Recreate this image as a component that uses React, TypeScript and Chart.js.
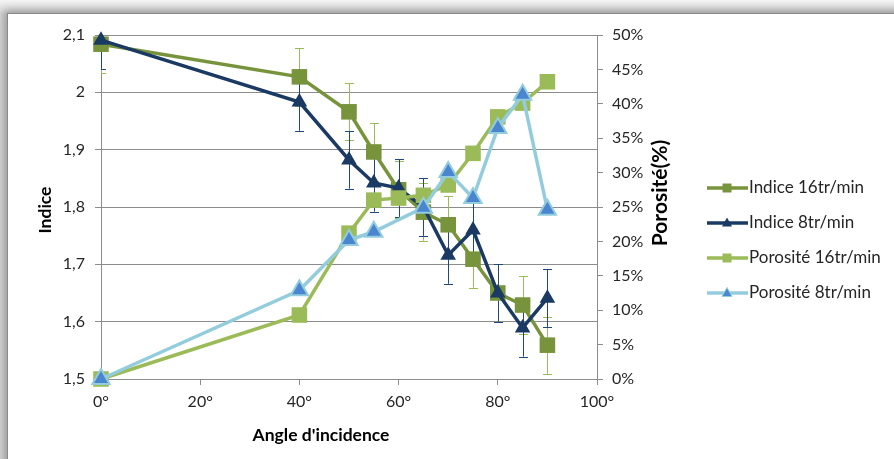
import React, { useEffect, useRef } from 'react';
import { Chart, registerables } from 'chart.js';
Chart.register(...registerables);

const angles = [0, 40, 50, 55, 60, 65, 70, 75, 80, 85, 90];
const indice16 = [2.084, 2.027, 1.966, 1.896, 1.83, 1.791, 1.769, 1.709, 1.65, 1.629, 1.559];
const indice8 = [2.091, 1.983, 1.882, 1.842, 1.833, 1.8, 1.716, 1.76, 1.65, 1.589, 1.641];
const porosite16 = [0, 9.3, 21.2, 26.0, 26.3, 26.7, 28.2, 32.8, 38.1, 40.1, 43.2];
const porosite8: (number | null)[] = [0, 12.9, 20.2, 21.4, null, 24.9, 30.1, 26.3, 36.5, 41.3, 24.6];
const indice16Err = [0.05, 0.05, 0.05, 0.05, 0.05, 0.05, 0.05, 0.05, 0.05, 0.05, 0.05];
const indice8Err = [0.05, 0.05, 0.05, 0.05, 0.05, 0.05, 0.05, 0.05, 0.05, 0.05, 0.05];
const seriesLabels = ['Indice 16tr/min', 'Indice 8tr/min', 'Porosité 16tr/min', 'Porosité 8tr/min'];
const xTitle = "Angle d'incidence";
const yTitle = 'Indice';
const y1Title = 'Porosité(%)';

const C_OLIVE = '#77933C';
const C_NAVY = '#1B3A63';
const C_LGREEN = '#9BBB59';
const C_LBLUE = '#93CDDD';
const C_BLUE = '#4A86CF';
const GRID = '#8C8C8C';
const TXT = '#262626';
const FONT = 'Lato, "Open Sans", sans-serif';

const pts = (vals: (number | null)[]) => angles.map((a, i) => ({ x: a, y: vals[i] }));

function drawMarker(ctx: CanvasRenderingContext2D, kind: string, x: number, y: number, s: number, fill: string, stroke?: string, sw = 0) {
  ctx.beginPath();
  if (kind === 'rect') {
    ctx.rect(x - s, y - s, 2 * s, 2 * s);
  } else {
    ctx.moveTo(x, y - s * 1.1);
    ctx.lineTo(x + s, y + s * 0.7);
    ctx.lineTo(x - s, y + s * 0.7);
    ctx.closePath();
  }
  ctx.fillStyle = fill;
  ctx.fill();
  if (stroke && sw) {
    ctx.strokeStyle = stroke;
    ctx.lineWidth = sw;
    ctx.stroke();
  }
}

const extras = {
  id: 'extras',
  beforeDatasetsDraw(chart: any) {
    const ctx = chart.ctx as CanvasRenderingContext2D;
    const a = chart.chartArea;
    ctx.save();
    ctx.beginPath();
    ctx.rect(a.left, a.top, a.right - a.left, a.bottom - a.top);
    ctx.clip();
    const ys = chart.scales.y;
    const bars = [
      { di: 0, vals: indice16, err: indice16Err, color: C_LGREEN },
      { di: 1, vals: indice8, err: indice8Err, color: '#1F497D' },
    ];
    for (const b of bars) {
      const meta = chart.getDatasetMeta(b.di);
      ctx.strokeStyle = b.color;
      ctx.lineWidth = 1;
      b.vals.forEach((v, i) => {
        const el = meta.data[i];
        if (!el) return;
        const x = Math.round(el.x) + 0.5;
        const yt = ys.getPixelForValue(v + b.err[i]);
        const yb = ys.getPixelForValue(v - b.err[i]);
        ctx.beginPath();
        ctx.moveTo(x, yt);
        ctx.lineTo(x, yb);
        ctx.moveTo(x - 4.5, Math.round(yt) + 0.5);
        ctx.lineTo(x + 4.5, Math.round(yt) + 0.5);
        ctx.moveTo(x - 4.5, Math.round(yb) + 0.5);
        ctx.lineTo(x + 4.5, Math.round(yb) + 0.5);
        ctx.stroke();
      });
    }
    ctx.restore();
  },
  afterDraw(chart: any) {
    const ctx = chart.ctx as CanvasRenderingContext2D;
    ctx.save();
    ctx.fillStyle = '#000';
    ctx.font = `bold 17.5px ${FONT}`;
    ctx.textAlign = 'center';
    ctx.textBaseline = 'middle';
    ctx.fillText(xTitle, 321, 435);
    ctx.save();
    ctx.translate(45, 210);
    ctx.rotate(-Math.PI / 2);
    ctx.fillText(yTitle, 0, 0);
    ctx.restore();
    ctx.save();
    ctx.translate(660, 193);
    ctx.rotate(-Math.PI / 2);
    ctx.font = `bold 21px ${FONT}`;
    ctx.fillText(y1Title, 0, 0);
    ctx.restore();

    const legendY = [188, 223, 258, 293];
    const styles = [
      { line: C_OLIVE, kind: 'rect', fill: C_OLIVE, stroke: '', sw: 0, s: 4.5 },
      { line: C_NAVY, kind: 'tri', fill: C_NAVY, stroke: '', sw: 0, s: 5 },
      { line: C_LGREEN, kind: 'rect', fill: C_LGREEN, stroke: '', sw: 0, s: 4.5 },
      { line: C_LBLUE, kind: 'tri', fill: C_BLUE, stroke: C_LBLUE, sw: 1, s: 5 },
    ];
    seriesLabels.forEach((lab, i) => {
      const y = legendY[i];
      const st = styles[i];
      ctx.strokeStyle = st.line;
      ctx.lineWidth = 3.5;
      ctx.beginPath();
      ctx.moveTo(707, y);
      ctx.lineTo(748, y);
      ctx.stroke();
      drawMarker(ctx, st.kind, 727, y, st.s, st.fill, st.stroke, st.sw);
      ctx.fillStyle = TXT;
      ctx.font = `17px ${FONT}`;
      ctx.textAlign = 'left';
      ctx.textBaseline = 'middle';
      ctx.fillText(lab, 749, y);
    });
    ctx.restore();
  },
};

export default function App() {
  const ref = useRef<HTMLCanvasElement>(null);
  useEffect(() => {
    document.body.style.margin = '0';
    const tickFont = { family: FONT, size: 16 };
    const chart = new Chart(ref.current as HTMLCanvasElement, {
      type: 'line',
      data: {
        datasets: [
          {
            label: seriesLabels[0], data: pts(indice16), yAxisID: 'y', order: 4, clip: false,
            borderColor: C_OLIVE, backgroundColor: C_OLIVE, borderWidth: 3.5,
            pointStyle: 'rect', pointRadius: 11, pointBorderWidth: 0, pointBackgroundColor: C_OLIVE,
          },
          {
            label: seriesLabels[1], data: pts(indice8), yAxisID: 'y', order: 3, clip: false,
            borderColor: C_NAVY, backgroundColor: C_NAVY, borderWidth: 3.5,
            pointStyle: 'triangle', pointRadius: 9, pointBorderWidth: 0, pointBackgroundColor: C_NAVY,
          },
          {
            label: seriesLabels[2], data: pts(porosite16), yAxisID: 'y1', order: 2, clip: false,
            borderColor: C_LGREEN, backgroundColor: C_LGREEN, borderWidth: 3.5,
            pointStyle: 'rect', pointRadius: 11, pointBorderWidth: 0, pointBackgroundColor: C_LGREEN,
          },
          {
            label: seriesLabels[3], data: pts(porosite8), yAxisID: 'y1', order: 1, spanGaps: true, clip: false,
            borderColor: C_LBLUE, backgroundColor: C_BLUE, borderWidth: 3.5,
            pointStyle: 'triangle', pointRadius: 10, pointBorderWidth: 2, pointBorderColor: C_LBLUE, pointBackgroundColor: C_BLUE,
          },
        ] as any,
      },
      options: {
        responsive: false,
        animation: false,
        devicePixelRatio: 1,
        layout: { padding: { top: 35, left: 0, right: 0, bottom: 0 } },
        plugins: { legend: { display: false }, tooltip: { enabled: false } },
        elements: { line: { tension: 0 } },
        scales: {
          x: {
            type: 'linear', min: 0, max: 100,
            afterFit: (s: any) => { s.height = 80; },
            ticks: { stepSize: 20, font: tickFont, color: TXT, padding: 7, callback: (v: any) => `${v}°` },
            grid: { drawOnChartArea: false, drawTicks: true, tickLength: 6, color: GRID },
            border: { display: true, color: GRID },
          },
          y: {
            type: 'linear', position: 'left', min: 1.5, max: 2.1,
            afterFit: (s: any) => { s.width = 101; },
            ticks: {
              stepSize: 0.1, font: tickFont, color: TXT, padding: 10,
              callback: (v: any) => String(Number(Number(v).toFixed(1))).replace('.', ','),
            },
            grid: { color: GRID, tickLength: 6 },
            border: { display: true, color: GRID },
          },
          y1: {
            type: 'linear', position: 'right', min: 0, max: 50,
            afterFit: (s: any) => { s.width = 297; },
            ticks: { stepSize: 5, font: tickFont, color: TXT, padding: 9, callback: (v: any) => `${v}%` },
            grid: { drawOnChartArea: false, drawTicks: true, tickLength: 6, color: GRID },
            border: { display: true, color: GRID },
          },
        },
      } as any,
      plugins: [extras],
    });
    return () => chart.destroy();
  }, []);

  return (
    <div style={{ position: 'fixed', left: 0, top: 0, width: 894, height: 459, overflow: 'hidden', background: 'linear-gradient(#f4f4f4, #d8d8d8 14px)' }}>
      <div style={{ position: 'absolute', left: 7, top: 13, width: 920, height: 480, background: '#fff', borderLeft: '1px solid #8a8a8a', borderTop: '1px solid #8a8a8a', boxShadow: '-1px -1px 8px 2px rgba(0,0,0,0.3)' }} />
      <canvas ref={ref} width={894} height={459} style={{ position: 'absolute', left: 0, top: 0, width: 894, height: 459 }} />
    </div>
  );
}
